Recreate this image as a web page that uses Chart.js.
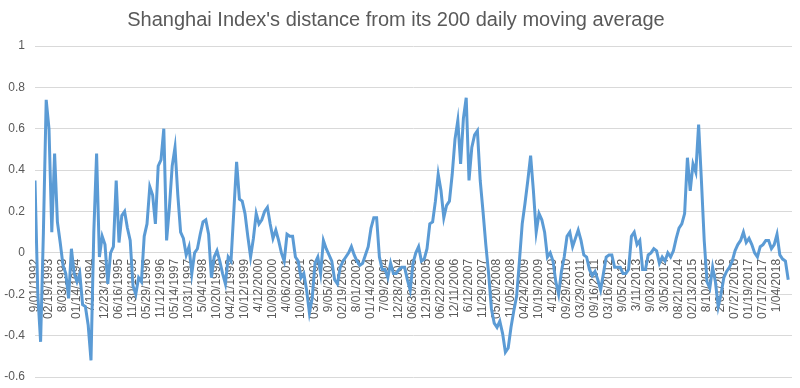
<!DOCTYPE html>
<html>
<head>
<meta charset="utf-8">
<script src="https://cdn.jsdelivr.net/npm/chart.js@4.4.1/dist/chart.umd.min.js"></script>
<style>
  html, body { margin: 0; padding: 0; background: #fff; }
  #wrap { width: 800px; height: 388px; }
</style>
</head>
<body>
<div id="wrap"><canvas id="chart" width="800" height="388"></canvas></div>
<script>
// tick labels on the date axis (one every 5 samples)
const dateLabels = [
  "9/01/1992", "02/19/1993", "8/03/1993", "01/14/1994", "7/12/1994", "12/23/1994",
  "06/16/1995", "11/30/1995", "05/29/1996", "11/12/1996", "05/14/1997", "10/31/1997",
  "5/04/1998", "10/20/1998", "04/21/1999", "10/12/1999", "4/12/2000", "10/09/2000",
  "4/06/2001", "10/09/2001", "03/25/2002", "9/05/2002", "02/19/2003", "8/01/2003",
  "01/14/2004", "7/09/2004", "12/28/2004", "06/30/2005", "12/19/2005", "06/22/2006",
  "12/11/2006", "6/12/2007", "11/29/2007", "05/20/2008", "11/05/2008", "04/24/2009",
  "10/19/2009", "4/12/2010", "09/29/2010", "03/29/2011", "09/16/2011", "03/16/2012",
  "9/05/2012", "3/11/2013", "9/03/2013", "3/05/2014", "08/21/2014", "02/13/2015",
  "8/10/2015", "2/01/2016", "07/27/2016", "01/19/2017", "07/17/2017", "1/04/2018"
];
const samplesPerLabel = 5;

// distance from the 200 day moving average
const dist1992to1996 = [
  0.35, -0.2, -0.43, 0.1, 0.74, 0.6, 0.1, 0.48, 0.15, 0.05,
  -0.06, -0.1, -0.22, 0.02, -0.1, -0.14, -0.1, -0.25, -0.26, -0.35,
  -0.52, 0.1, 0.48, -0.02, 0.08, 0.04, -0.15, 0.0, 0.03, 0.35,
  0.05, 0.18, 0.2, 0.12, 0.06, -0.16, -0.2, -0.12, -0.14, 0.08,
  0.14, 0.32, 0.28, 0.14, 0.42
];
const dist1996to2001 = [
  0.45, 0.6, 0.06, 0.22, 0.42, 0.51, 0.28, 0.1, 0.07, -0.01,
  0.03, -0.1, 0.0, 0.02, 0.09, 0.15, 0.16, 0.09, -0.12, -0.02,
  0.01, -0.04, -0.1, -0.15, -0.02, -0.04, 0.2, 0.44, 0.26, 0.25,
  0.19, 0.08, -0.02, 0.07, 0.19, 0.14, 0.16, 0.2, 0.22, 0.14,
  0.07, 0.11, 0.06, 0.0, -0.04
];
const dist2001to2005 = [
  0.09, 0.08, 0.08, -0.02, -0.04, -0.12, -0.1, -0.18, -0.29, -0.22,
  -0.05, -0.02, -0.1, 0.06, 0.02, -0.01, -0.04, -0.13, -0.15, -0.07,
  -0.04, -0.02, 0.0, 0.03, -0.01, -0.04, -0.06, -0.05, -0.01, 0.03,
  0.12, 0.17, 0.17, -0.02, -0.08, -0.08, -0.12, -0.05, -0.1, -0.1,
  -0.08, -0.07, -0.07, -0.13, -0.18
];
const dist2005to2009 = [
  -0.05, 0.0, 0.03, -0.04, -0.03, 0.02, 0.14, 0.15, 0.25, 0.38,
  0.3, 0.17, 0.23, 0.25, 0.38, 0.55, 0.64, 0.43, 0.65, 0.75,
  0.35, 0.51, 0.57, 0.59, 0.35, 0.2, 0.04, -0.1, -0.27, -0.34,
  -0.36, -0.33, -0.39, -0.48, -0.46, -0.36, -0.28, -0.21, -0.04, 0.14,
  0.24, 0.35, 0.47, 0.3
];
const dist2009to2013 = [
  0.1, 0.19, 0.16, 0.1, -0.02, 0.0, -0.04, -0.14, -0.2, -0.09,
  -0.02, 0.08, 0.1, 0.03, 0.07, 0.11, 0.06, -0.01, -0.02, -0.08,
  -0.11, -0.09, -0.13, -0.18, -0.1, -0.02, -0.01, -0.01, -0.07, -0.07,
  -0.07, -0.1, -0.1, -0.08, 0.08, 0.1, 0.04, 0.06, -0.08, -0.08,
  -0.01, 0.0, 0.02, 0.01, -0.05
];
const dist2013to2018 = [
  -0.02, -0.04, 0.0, -0.02, 0.01, 0.07, 0.12, 0.14, 0.19, 0.46,
  0.3, 0.43, 0.39, 0.62, 0.35, 0.06, -0.14, -0.17, -0.07, -0.14,
  -0.26, -0.2, -0.12, -0.09, -0.07, -0.04, 0.01, 0.04, 0.06, 0.1,
  0.05, 0.07, 0.04, 0.0, -0.02, 0.03, 0.04, 0.06, 0.06, 0.02,
  0.04, 0.09, -0.01, -0.03, -0.04, -0.13
];

const distance = [].concat(dist1992to1996, dist1996to2001, dist2001to2005,
  dist2005to2009, dist2009to2013, dist2013to2018);

// x is measured in label steps so the date ticks land on whole numbers
const points = distance.map((v, i) => ({ x: i / samplesPerLabel, y: v }));

const grey = "#595959";
const fontFamily = "'Liberation Sans', Arial, sans-serif";

new Chart(document.getElementById("chart"), {
  type: "line",
  data: {
    datasets: [{
      label: "distance",
      data: points,
      borderColor: "#5b9bd5",
      borderWidth: 3,
      pointRadius: 0,
      tension: 0,
      fill: false
    }]
  },
  options: {
    responsive: false,
    animation: false,
    layout: { padding: { left: 0, right: 8, top: 0, bottom: 11 } },
    plugins: {
      legend: { display: false },
      tooltip: { enabled: false },
      title: {
        display: true,
        text: "Shanghai Index's distance from its 200 daily moving average",
        color: grey,
        font: { family: fontFamily, size: 20, weight: "normal" },
        padding: { top: 8, bottom: 14 }
      }
    },
    scales: {
      x: {
        type: "linear",
        position: { y: 0 }, // date labels hang off the zero line, like Excel
        min: 0,
        max: 54.07,
        z: 1,
        grid: { display: false, drawTicks: false },
        border: { display: false },
        afterBuildTicks: (scale) => {
          scale.ticks = dateLabels.map((_, i) => ({ value: i }));
        },
        ticks: {
          autoSkip: false,
          minRotation: 90,
          maxRotation: 90,
          padding: 6,
          color: grey,
          font: { family: fontFamily, size: 12 },
          callback: (value) => dateLabels[value] || ""
        }
      },
      y: {
        min: -0.6,
        max: 1,
        afterFit: (scale) => {
          scale.width = 35;
          // don't let the tick label overhang eat into the plot height
          scale.paddingTop = 0;
          scale.paddingBottom = 0;
        },
        grid: { color: "#d9d9d9", lineWidth: 1, drawTicks: false },
        border: { display: false },
        ticks: {
          stepSize: 0.2,
          padding: 10,
          color: grey,
          font: { family: fontFamily, size: 12 },
          callback: (value) => String(Math.round(value * 10) / 10)
        }
      }
    }
  }
});
</script>
</body>
</html>
